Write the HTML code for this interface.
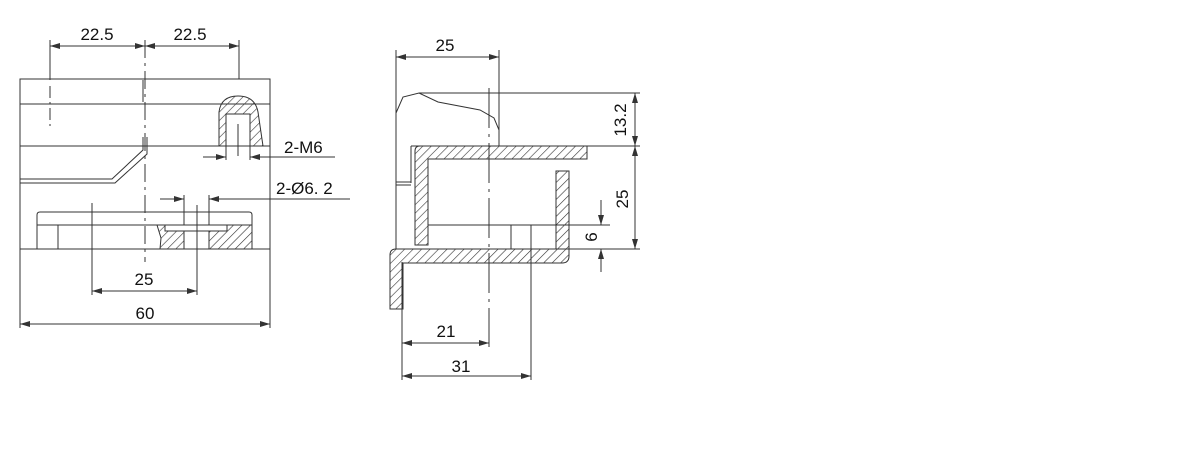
<!DOCTYPE html>
<html><head><meta charset="utf-8"><style>
html,body{margin:0;padding:0;background:#fff;}
svg{display:block;}
text{font-family:"Liberation Sans",sans-serif;font-size:17px;fill:#111;}
</style></head><body>
<svg width="1180" height="450" viewBox="0 0 1180 450" xmlns="http://www.w3.org/2000/svg">
<defs>
<pattern id="h" patternUnits="userSpaceOnUse" width="6" height="6" patternTransform="rotate(45)">
<line x1="0" y1="0" x2="0" y2="6" stroke="#333" stroke-width="1.2"/>
</pattern>
<marker id="a" viewBox="0 0 10 6" refX="10" refY="3" markerWidth="10" markerHeight="6" orient="auto-start-reverse" markerUnits="userSpaceOnUse">
<path d="M0,0 L10,3 L0,6 z" fill="#333"/>
</marker>
</defs>
<g stroke="#333" stroke-width="1" fill="none">
<!-- LEFT VIEW -->
<rect x="20" y="79" width="250" height="170"/>
<line x1="20" y1="249" x2="20" y2="328"/>
<line x1="270" y1="249" x2="270" y2="328"/>
<line x1="20" y1="104" x2="270" y2="104"/>
<line x1="20" y1="146" x2="270" y2="146"/>
<line x1="50" y1="46" x2="145" y2="46" marker-start="url(#a)" marker-end="url(#a)"/>
<line x1="145" y1="46" x2="239" y2="46" marker-start="url(#a)" marker-end="url(#a)"/>
<line x1="50" y1="40" x2="50" y2="80"/>
<line x1="239" y1="40" x2="239" y2="79"/>
<line x1="50" y1="86" x2="50" y2="128" stroke-dasharray="12,4,2,4"/>
<line x1="145" y1="40" x2="145" y2="262" stroke-dasharray="18,5,3,5"/>
<line x1="143" y1="80" x2="143" y2="102"/>
<polyline points="20,179 112,179 143,150 143,137"/>
<polyline points="20,183 115,183 147,154 147,137"/>
<path d="M219,146 L219,112 Q221,96 238,96 Q255,96 258,112 L263,146 Z" fill="url(#h)"/>
<rect x="226" y="114" width="24" height="32" fill="#fff"/>
<line x1="238" y1="124" x2="238" y2="156"/>
<line x1="203" y1="157" x2="226" y2="157" marker-end="url(#a)"/>
<line x1="273" y1="157" x2="250" y2="157" marker-end="url(#a)"/>
<line x1="250" y1="157" x2="335" y2="157"/>
<line x1="226" y1="146" x2="226" y2="160"/>
<line x1="250" y1="146" x2="250" y2="160"/>
<line x1="160" y1="199" x2="184" y2="199" marker-end="url(#a)"/>
<line x1="350" y1="199" x2="209" y2="199" marker-end="url(#a)"/>
<line x1="184" y1="195" x2="184" y2="249"/>
<line x1="209" y1="195" x2="209" y2="249"/>
<path d="M37,249 L37,215 Q37,212 40,212 L249,212 Q252,212 252,215 L252,249"/>
<line x1="37" y1="225" x2="252" y2="225"/>
<line x1="58" y1="225" x2="58" y2="249"/>
<path d="M157,225 L177,225 L177,231 L184,231 L184,249 L160,249 L161,238 Z" fill="url(#h)"/>
<path d="M209,231 L227,231 L227,225 L252,225 L252,249 L209,249 Z" fill="url(#h)"/>
<rect x="165" y="225" width="62" height="6" fill="#fff"/>
<line x1="92" y1="203" x2="92" y2="295"/>
<line x1="197" y1="205" x2="197" y2="295"/>
<line x1="92" y1="291" x2="197" y2="291" marker-start="url(#a)" marker-end="url(#a)"/>
<line x1="20" y1="324" x2="270" y2="324" marker-start="url(#a)" marker-end="url(#a)"/>

<!-- RIGHT VIEW -->
<line x1="396" y1="57" x2="499" y2="57" marker-start="url(#a)" marker-end="url(#a)"/>
<line x1="396" y1="50" x2="396" y2="249"/>
<line x1="499" y1="50" x2="499" y2="146"/>
<polyline points="396,113 403,97 419,93 438,102 480,110 494,118 499,130 499,146"/>
<line x1="419" y1="93" x2="640" y2="93"/>
<line x1="411" y1="146" x2="640" y2="146"/>
<line x1="411" y1="146" x2="411" y2="183"/>
<line x1="396" y1="182" x2="411" y2="182"/>
<line x1="396" y1="185" x2="411" y2="185"/>
<line x1="396" y1="249" x2="640" y2="249"/>
<line x1="635" y1="93" x2="635" y2="146" marker-start="url(#a)" marker-end="url(#a)"/>
<line x1="635" y1="146" x2="635" y2="249" marker-start="url(#a)" marker-end="url(#a)"/>
<path d="M420,146 L587,146 L587,159 L428,159 L428,245 L415,245 L415,151 Q415,146 420,146 Z" fill="url(#h)"/>
<rect x="556" y="171" width="13" height="78" fill="url(#h)"/>
<line x1="428" y1="225" x2="610" y2="225"/>
<line x1="511" y1="225" x2="511" y2="249"/>
<line x1="531" y1="225" x2="531" y2="380"/>
<path d="M396,249 L569,249 L569,256 Q569,263 562,263 L403,263 L403,309 L390,309 L390,255 Q390,249 396,249 Z" fill="url(#h)"/>
<line x1="489" y1="88" x2="489" y2="347" stroke-dasharray="40,6,3,6"/>
<line x1="601" y1="200" x2="601" y2="225" marker-end="url(#a)"/>
<line x1="601" y1="272" x2="601" y2="249" marker-end="url(#a)"/>
<line x1="402" y1="262" x2="402" y2="380"/>
<line x1="402" y1="343" x2="489" y2="343" marker-start="url(#a)" marker-end="url(#a)"/>
<line x1="402" y1="376" x2="531" y2="376" marker-start="url(#a)" marker-end="url(#a)"/>
</g>
<g>
<text x="97" y="40" text-anchor="middle">22.5</text>
<text x="190" y="40" text-anchor="middle">22.5</text>
<text x="284" y="153">2-M6</text>
<text x="276" y="194">2-Ø6. 2</text>
<text x="144" y="285" text-anchor="middle">25</text>
<text x="145" y="319" text-anchor="middle">60</text>
<text x="445" y="51" text-anchor="middle">25</text>
<text x="446" y="337" text-anchor="middle">21</text>
<text x="461" y="372" text-anchor="middle">31</text>
<text transform="translate(626,120) rotate(-90)" text-anchor="middle">13.2</text>
<text transform="translate(628,199) rotate(-90)" text-anchor="middle">25</text>
<text transform="translate(597,237) rotate(-90)" text-anchor="middle">6</text>
</g>
</svg>
</body></html>
